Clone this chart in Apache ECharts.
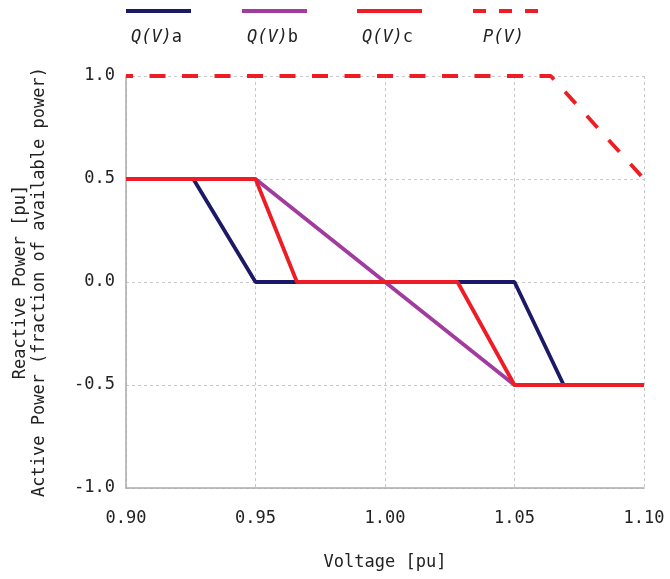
<!DOCTYPE html>
<html>
<head>
<meta charset="utf-8">
<script src="https://cdn.jsdelivr.net/npm/echarts@6/dist/echarts.min.js"></script>
<style>html,body{margin:0;padding:0;background:#fff;}#c{width:670px;height:579px;}</style>
</head>
<body>
<div id="c"></div>
<script>
// ---- data ----
const qaVoltage = [0.90, 0.926, 0.95, 1.05, 1.069, 1.10];
const qaValue   = [0.5, 0.5, 0.0, 0.0, -0.5, -0.5];
const qbVoltage = [0.90, 0.95, 1.05, 1.10];
const qbValue   = [0.5, 0.5, -0.5, -0.5];
const qcVoltage = [0.90, 0.95, 0.966, 1.028, 1.05, 1.10];
const qcValue   = [0.5, 0.5, 0.0, 0.0, -0.5, -0.5];
const pvVoltage = [0.90, 1.064, 1.10];
const pvValue   = [1.0, 1.0, 0.5];
const seriesNames = ['Q(V)a', 'Q(V)b', 'Q(V)c', 'P(V)'];
const legendSuffix = ['a', 'b', 'c', ''];
const xTicks = [0.90, 0.95, 1.00, 1.05, 1.10];
const yTicks = [-1.0, -0.5, 0.0, 0.5, 1.0];

const colors = ['#1c1a66', '#a23b9e', '#ee1d25', '#ee1d25'];
const FONT = 'DejaVu Sans Mono';

const pairs = (xs, ys) => xs.map((x, i) => [x, ys[i]]);
const seriesData = [
  pairs(qaVoltage, qaValue),
  pairs(qbVoltage, qbValue),
  pairs(qcVoltage, qcValue),
  pairs(pvVoltage, pvValue)
];

const chart = echarts.init(document.getElementById('c'), null, {renderer: 'canvas'});

const legendLeft = [124, 240, 355, 471];
const legends = seriesNames.map((n, i) => ({
  data: [n],
  left: legendLeft[i],
  top: 4,
  padding: 0,
  itemWidth: 65,
  itemHeight: 14,
  formatter: () => '',
  selectedMode: false,
  itemStyle: {opacity: 0, color: 'rgba(0,0,0,0)', borderWidth: 0},
  lineStyle: {width: 4, color: colors[i], type: i === 3 ? [13, 13] : 'solid', dashOffset: 0, opacity: 1}
}));

const legendTexts = seriesNames.map((n, i) => ({
  type: 'text',
  x: legendLeft[i] + 32.5,
  y: 38,
  style: {
    text: i === 3 ? '{i|P(V)}' : '{i|Q(V)}{n|' + legendSuffix[i] + '}',
    align: 'center',
    verticalAlign: 'middle',
    rich: {
      i: {fontFamily: FONT, fontStyle: 'italic', fontSize: 17, fill: '#222'},
      n: {fontFamily: FONT, fontSize: 17, fill: '#222'}
    }
  }
}));

chart.setOption({
  animation: false,
  backgroundColor: '#fff',
  grid: {left: 126, right: 26, top: 76, bottom: 91, containLabel: false},
  legend: legends,
  graphic: legendTexts,
  xAxis: {
    type: 'value',
    min: xTicks[0],
    max: xTicks[xTicks.length - 1],
    interval: 0.05,
    name: 'Voltage [pu]',
    nameLocation: 'middle',
    nameGap: 66,
    nameTextStyle: {fontFamily: FONT, fontSize: 17, color: '#222'},
    axisLine: {show: true, onZero: false, lineStyle: {color: '#aaa', width: 1.5}},
    axisTick: {show: false},
    axisLabel: {
      fontFamily: FONT, fontSize: 17, color: '#222', margin: 22,
      formatter: v => Number(v).toFixed(2)
    },
    splitLine: {show: true, lineStyle: {color: '#c8c8c8', type: [3, 3], width: 1}}
  },
  yAxis: {
    type: 'value',
    min: yTicks[0],
    max: yTicks[yTicks.length - 1],
    interval: 0.5,
    name: 'Reactive Power [pu]\nActive Power (fraction of available power)',
    nameLocation: 'middle',
    nameGap: 77,
    nameTextStyle: {fontFamily: FONT, fontSize: 17, color: '#222', lineHeight: 19},
    axisLine: {show: true, onZero: false, lineStyle: {color: '#aaa', width: 1.5}},
    axisTick: {show: false},
    axisLabel: {
      fontFamily: FONT, fontSize: 17, color: '#222', margin: 11,
      formatter: v => Number(v).toFixed(1)
    },
    splitLine: {show: true, lineStyle: {color: '#c8c8c8', type: [3, 3], width: 1}}
  },
  series: seriesNames.map((n, i) => ({
    name: n,
    type: 'line',
    data: seriesData[i],
    symbol: 'none',
    clip: false,
    color: colors[i],
    lineStyle: {
      color: colors[i],
      width: 3.8,
      type: i === 3 ? [16, 16.5] : 'solid',
      dashOffset: i === 3 ? 9 : 0
    },
    z: 2 + i
  }))
});
</script>
</body>
</html>
